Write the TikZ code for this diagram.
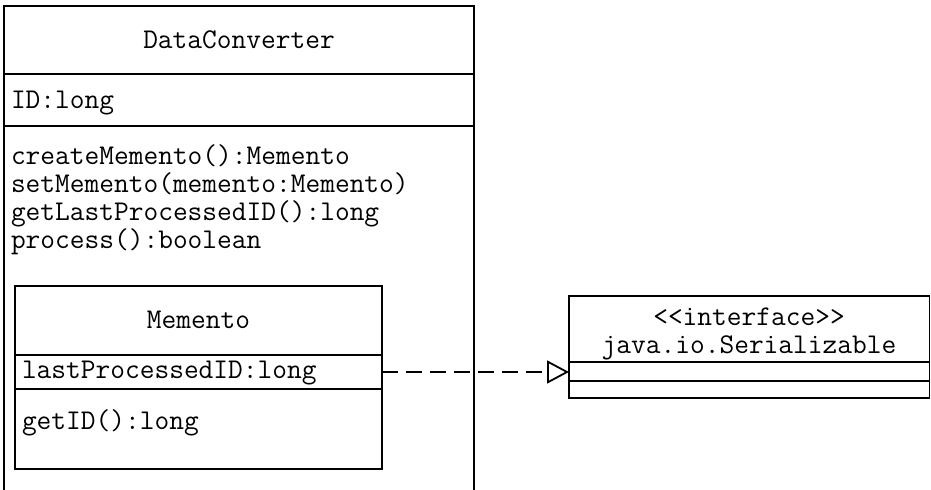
\documentclass[tikz,border=0pt]{standalone}
\usepackage{tikz}
\usetikzlibrary{arrows.meta,positioning,calc}

\begin{document}
\begin{tikzpicture}[
    x=0.5pt, y=-0.5pt,
    every node/.style={font=\ttfamily\fontsize{14.3}{16}\selectfont, inner sep=0pt, outer sep=0pt},
    txt/.style={text height=8.5pt, text depth=2.5pt},
    member/.style={txt, anchor=west},
    classbox/.style={rectangle, draw, line width=0.9pt, anchor=north west},
    sep/.style={line width=0.9pt},
    realize/.style={line width=0.9pt, dash pattern=on 8pt off 4pt, -{Triangle[open, length=11pt, width=11.5pt]}}
]
\useasboundingbox (0,0) rectangle (931,489);

% DataConverter
\node[classbox, minimum width=235pt, minimum height=260pt] (dcbox) at (4,6) {};
\draw[sep] (4,74) -- (474,74);
\draw[sep] (4,126) -- (474,126);
\node[txt] (dcname) at (239,42) {DataConverter};
\node[member] (dcid) at (11,102) {ID:long};
\node[member] (dccreate) at (11,158) {createMemento():Memento};
\node[member] (dcset) at (11,186) {setMemento(memento:Memento)};
\node[member] (dcget) at (11,214) {getLastProcessedID():long};
\node[member] (dcproc) at (11,242) {process():boolean};

% Memento
\node[classbox, minimum width=183.5pt, minimum height=91.5pt] (membox) at (15,286) {};
\draw[sep] (15,355) -- (382,355);
\draw[sep] (15,389) -- (382,389);
\node[txt] (memname) at (198.5,322) {Memento};
\node[member] (memattr) at (22,372) {lastProcessedID:long};
\node[member] (memop) at (22,423) {getID():long};

% Serializable
\node[classbox, minimum width=180.25pt, minimum height=51pt] (serbox) at (569,296) {};
\draw[sep] (569,362) -- (929.5,362);
\draw[sep] (569,381) -- (929.5,381);
\node[txt] (serstereo) at (749,319) {{<}{<}interface{>}{>}};
\node[txt] (sername) at (749,347) {java.io.Serializable};

% Realization
\draw[realize] (memattr -| membox.east) -- (memattr -| serbox.west);

\end{tikzpicture}
\end{document}
